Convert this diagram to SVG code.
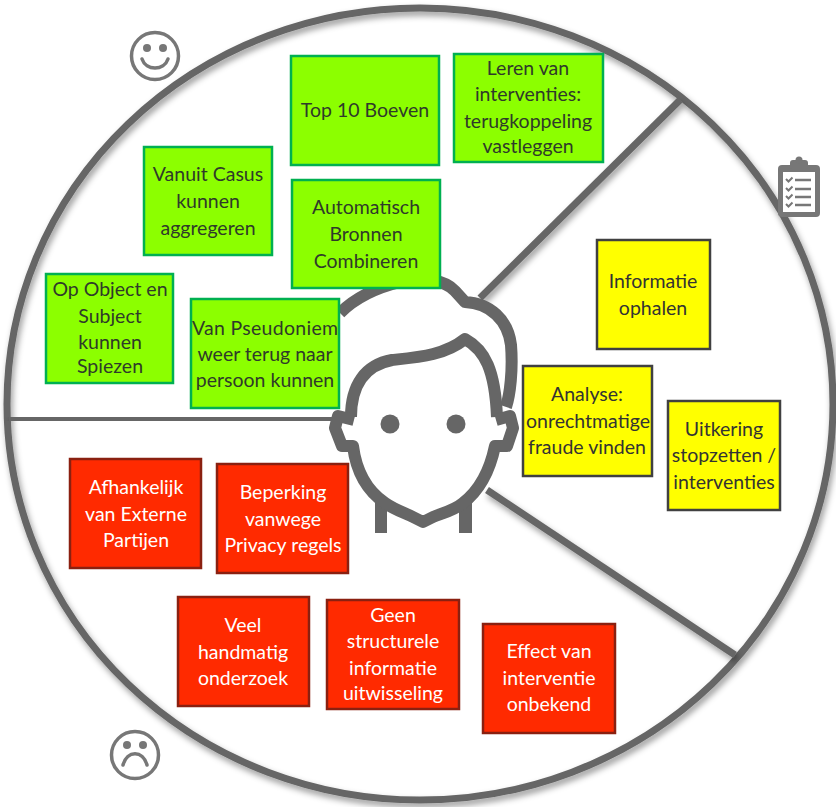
<svg xmlns="http://www.w3.org/2000/svg" width="836" height="807" viewBox="0 0 836 807">
<style>
text{font-family:Lato,"Liberation Sans",sans-serif;font-size:19.5px;text-anchor:middle}
.g rect{fill:#8CFF00;stroke:#00B050;stroke-width:2.5}
.g text{fill:#2f3a2a}
.y rect{fill:#FFFF00;stroke:#404040;stroke-width:2.5}
.y text{fill:#333}
.r rect{fill:#FF2A00;stroke:#8A2010;stroke-width:2.5}
.r text{fill:#fff}
.ln{fill:none;stroke:#666;stroke-width:7;filter:url(#sh)}
.hd{fill:none;stroke:#666;stroke-width:12;stroke-linejoin:round}
.ic{fill:none;stroke:#777;stroke-width:3.5;stroke-linecap:round}
</style>
<defs>
<filter id="sh" x="-10%" y="-10%" width="125%" height="125%"><feDropShadow dx="2" dy="4" stdDeviation="3" flood-color="#000" flood-opacity="0.4"/></filter>
</defs>
<rect width="836" height="807" fill="#fff"/>
<g id="connectors">
<ellipse class="ln" cx="420" cy="404" rx="413" ry="396"/>
<path class="ln" d="M480 298L680 100"/>
<path class="ln" d="M487 490L735 655"/>
<path class="ln" d="M9 418L340 420"/>
</g>
<g id="head">
<path fill="#fff" d="M340 313C355 298 375 285 400 280C425 276 445 280 455 290L465 300C490 303 508 320 511 345C513 370 510 395 507 415L512 425L507 447L496 447C492 480 470 503 435 516L423 522L411 516C378 503 358 480 353 447L342 447L335 425L342 413Z"/>
<rect x="375" y="500" width="12" height="33" fill="#666"/>
<rect x="459" y="500" width="13" height="33" fill="#666"/>
<path class="hd" d="M340 313C355 298 375 288 400 282C425 277 445 280 455 291L465 302C490 303 508 320 511 345C513 370 510 395 506 407"/>
<path class="hd" d="M351 417C351 385 365 365 392 360C420 357 445 355 465 339C485 350 495 370 497 417"/>
<path class="hd" fill="#fff" d="M354 420L338 416L335 428L342 446L353 446C356 470 366 490 385 503C395 510 405 513 413 517L423 522L433 517C443 513 455 510 463 503C480 490 490 470 495 446L507 446L513 428L510 416L496 420" style="fill:none"/>
<circle cx="390" cy="424" r="9.5" fill="#666"/>
<circle cx="456" cy="424" r="9.5" fill="#666"/>
</g>
<g id="smile">
<circle class="ic" cx="155" cy="56" r="23.5"/>
<circle cx="147" cy="48" r="4" fill="#777"/><circle cx="163" cy="48" r="4" fill="#777"/>
<path class="ic" d="M142 59C146 71 164 71 168 59"/>
</g>
<g id="frown">
<circle class="ic" cx="135" cy="755" r="23.5"/>
<circle cx="127" cy="745" r="4" fill="#777"/><circle cx="143" cy="745" r="4" fill="#777"/>
<path class="ic" d="M123 765C127 750 143 750 147 765"/>
</g>
<g id="clipboard">
<rect x="778" y="165" width="42" height="52" rx="4" fill="#777"/>
<rect x="790" y="160" width="18" height="9" rx="3" fill="#777"/>
<circle cx="799" cy="160" r="3.5" fill="#777"/>
<rect x="783" y="172" width="32" height="40" fill="#fff"/>
<path d="M786 179l2.5 2.5l4-4M786 188l2.5 2.5l4-4M786 196l2.5 2.5l4-4M786 204l2.5 2.5l4-4" fill="none" stroke="#777" stroke-width="2"/>
<path d="M795 180h16M795 189h16M795 197h16M795 205h16" stroke="#777" stroke-width="2.5"/>
</g>
<g id="n1" class="g"><rect x="291" y="56" width="148" height="109"/><text x="365" y="117">Top 10 Boeven</text></g>
<g id="n2" class="g"><rect x="454" y="54" width="149" height="108"/><text x="528" y="75">Leren van</text><text x="528" y="101">interventies:</text><text x="528" y="128">terugkoppeling</text><text x="528" y="153">vastleggen</text></g>
<g id="n3" class="g"><rect x="144" y="147" width="128" height="108"/><text x="208" y="181">Vanuit Casus</text><text x="208" y="208">kunnen</text><text x="208" y="235">aggregeren</text></g>
<g id="n4" class="g"><rect x="292" y="180" width="148" height="108"/><text x="366" y="214">Automatisch</text><text x="366" y="241">Bronnen</text><text x="366" y="268">Combineren</text></g>
<g id="n5" class="g"><rect x="46" y="274" width="127" height="109"/><text x="110" y="296">Op Object en</text><text x="110" y="323">Subject</text><text x="110" y="349">kunnen</text><text x="110" y="373">Spiezen</text></g>
<g id="n6" class="g"><rect x="191" y="299" width="148" height="109"/><text x="265" y="335" textLength="146">Van Pseudoniem</text><text x="265" y="361">weer terug naar</text><text x="265" y="387">persoon kunnen</text></g>
<g id="n7" class="y"><rect x="597" y="240" width="113" height="109"/><text x="653" y="288">Informatie</text><text x="653" y="315">ophalen</text></g>
<g id="n8" class="y"><rect x="523" y="366" width="129" height="110"/><text x="587" y="401">Analyse:</text><text x="588" y="428">onrechtmatige</text><text x="587" y="454">fraude vinden</text></g>
<g id="n9" class="y"><rect x="668" y="401" width="112" height="109"/><text x="724" y="436">Uitkering</text><text x="724" y="462">stopzetten /</text><text x="724" y="489">interventies</text></g>
<g id="n10" class="r"><rect x="70" y="459" width="131" height="109"/><text x="136" y="494">Afhankelijk</text><text x="136" y="521">van Externe</text><text x="136" y="547">Partijen</text></g>
<g id="n11" class="r"><rect x="217" y="464" width="131" height="109"/><text x="283" y="499">Beperking</text><text x="283" y="526">vanwege</text><text x="283" y="552">Privacy regels</text></g>
<g id="n12" class="r"><rect x="178" y="597" width="131" height="109"/><text x="243" y="632">Veel</text><text x="243" y="659">handmatig</text><text x="243" y="685">onderzoek</text></g>
<g id="n13" class="r"><rect x="327" y="600" width="132" height="109"/><text x="393" y="622">Geen</text><text x="393" y="648">structurele</text><text x="393" y="675">informatie</text><text x="393" y="700">uitwisseling</text></g>
<g id="n14" class="r"><rect x="483" y="624" width="132" height="109"/><text x="549" y="658">Effect van</text><text x="549" y="685">interventie</text><text x="549" y="711">onbekend</text></g>
</svg>
